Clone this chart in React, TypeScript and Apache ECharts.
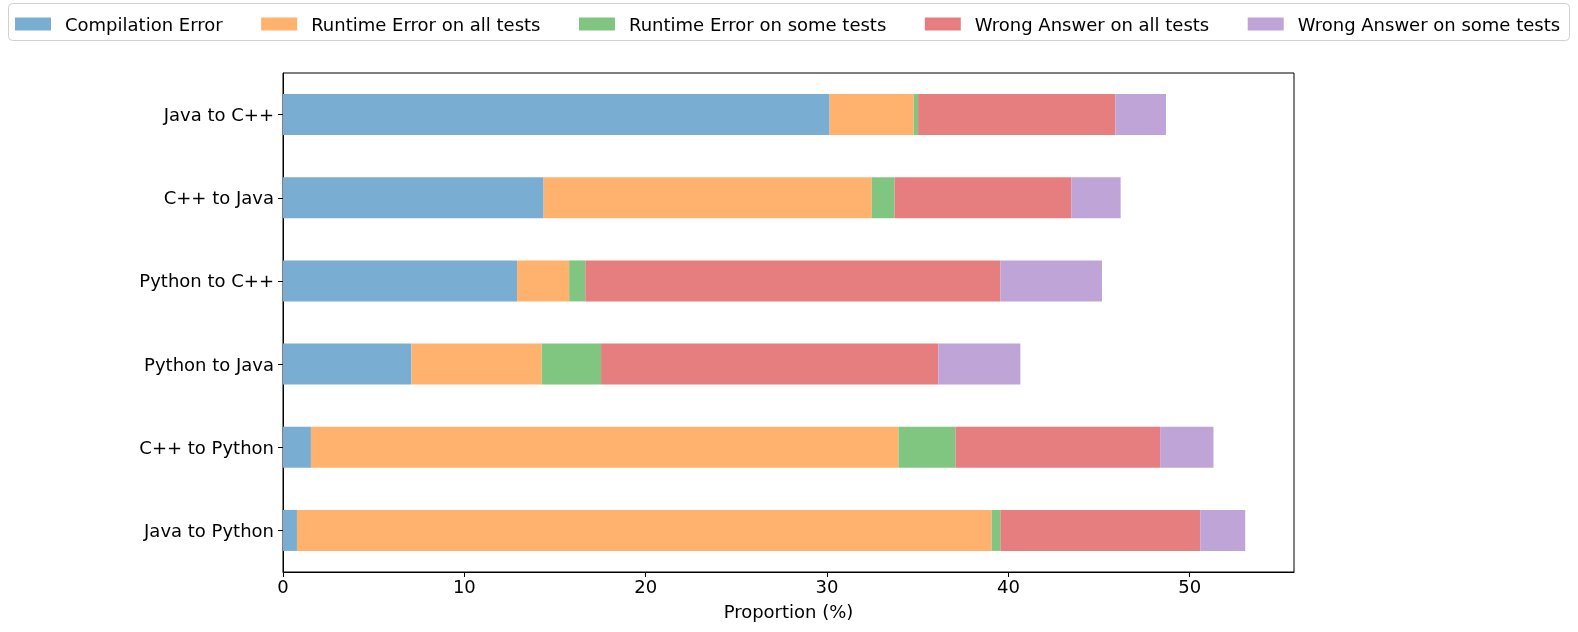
import React, { useEffect, useRef } from "react";
import * as echarts from "echarts";

const categories = ["Java to C++", "C++ to Java", "Python to C++", "Python to Java", "C++ to Python", "Java to Python"];
const seriesNames = [
  "Compilation Error",
  "Runtime Error on all tests",
  "Runtime Error on some tests",
  "Wrong Answer on all tests",
  "Wrong Answer on some tests",
];
const compilationError = [30.14, 14.37, 12.91, 7.08, 1.54, 0.77];
const runtimeErrorAll = [4.64, 18.1, 2.87, 7.19, 32.4, 38.31];
const runtimeErrorSome = [0.24, 1.25, 0.89, 3.27, 3.14, 0.48];
const wrongAnswerAll = [10.88, 9.75, 22.89, 18.6, 11.29, 11.02];
const wrongAnswerSome = [2.79, 2.72, 5.6, 4.52, 2.94, 2.48];
const colors = ["#79add2", "#ffb26e", "#80c680", "#e67d7e", "#bfa4d7"];
const xTicks = [0, 10, 20, 30, 40, 50];

const FONT = "DejaVu Sans";
const FS = 18;

export default function App() {
  const ref = useRef<HTMLDivElement>(null);
  useEffect(() => {
    document.body.style.margin = "0";
    const chart = echarts.init(ref.current!, null, { renderer: "svg" });
    const values = [compilationError, runtimeErrorAll, runtimeErrorSome, wrongAnswerAll, wrongAnswerSome];
    chart.setOption({
      animation: false,
      textStyle: { fontFamily: FONT },
      graphic: [
        {
          type: "rect",
          shape: { x: 8.5, y: 3.5, width: 1561, height: 37, r: 4 },
          style: { fill: "#fff", stroke: "#d0d0d0", lineWidth: 1 },
          z: -1,
        },
      ],
      legend: {
        left: 15,
        top: 15,
        padding: 0,
        itemWidth: 36,
        itemHeight: 13,
        itemGap: 38.5,
        icon: "rect",
        textStyle: { fontFamily: FONT, fontSize: FS, color: "#000", padding: [0, 0, 0, 9] },
        data: seriesNames,
      },
      grid: { left: 283, right: 284, top: 73, height: 499, show: true, borderColor: "#000", borderWidth: 1 },
      xAxis: {
        type: "value",
        min: 0,
        max: 55.75,
        interval: 10,
        name: "Proportion (%)",
        nameLocation: "middle",
        nameGap: 30,
        nameTextStyle: { fontFamily: FONT, fontSize: FS, color: "#000" },
        axisLine: { show: true, lineStyle: { color: "#000", width: 1 } },
        axisTick: { show: true, length: 5, lineStyle: { color: "#000" } },
        splitLine: { show: false },
        axisLabel: {
          fontFamily: FONT,
          fontSize: FS,
          color: "#000",
          margin: 5,
          showMaxLabel: false,
          formatter: (v: number) => (xTicks.includes(v) ? String(v) : ""),
        },
      },
      yAxis: {
        type: "category",
        inverse: true,
        data: categories,
        axisLine: { show: true, lineStyle: { color: "#000", width: 1 } },
        axisTick: { show: true, length: 5, alignWithLabel: true, lineStyle: { color: "#000" } },
        axisLabel: { fontFamily: FONT, fontSize: FS, color: "#000", margin: 9 },
      },
      series: seriesNames.map((name, i) => ({
        name,
        type: "bar",
        stack: "total",
        barWidth: 41,
        itemStyle: { color: colors[i] },
        data: values[i],
      })),
    });
    return () => chart.dispose();
  }, []);
  return <div ref={ref} style={{ position: "fixed", left: 0, top: 0, width: 1578, height: 632 }} />;
}
